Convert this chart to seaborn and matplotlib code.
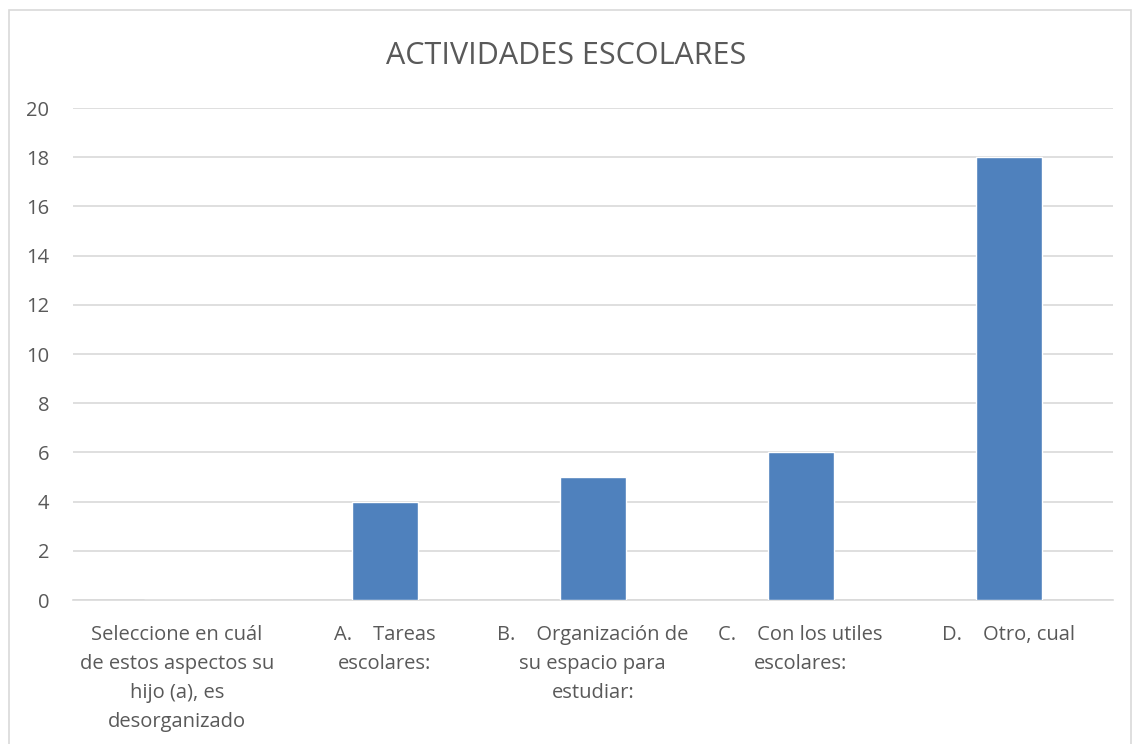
import matplotlib
matplotlib.use("Agg")
import matplotlib.pyplot as plt
import seaborn as sns
import pandas as pd
from matplotlib.patches import Rectangle

categorias = [
    "Seleccione en cuál\nde estos aspectos su\nhijo (a), es\ndesorganizado",
    "A.    Tareas\nescolares:",
    "B.    Organización de\nsu espacio para\nestudiar:",
    "C.    Con los utiles\nescolares:",
    "D.    Otro, cual",
]
valores = [0, 4, 5, 6, 18]
titulo = "ACTIVIDADES ESCOLARES"

sns.set_theme(style="white")
plt.rcParams["font.family"] = ["Open Sans", "DejaVu Sans"]

df = pd.DataFrame({"categoria": categorias, "valor": valores})

fig = plt.figure(figsize=(11.33, 7.44), dpi=100)
ax = fig.add_axes([0.0644, 0.1935, 0.9176, 0.6613])

sns.barplot(data=df, x="categoria", y="valor", color="#4F81BD",
            width=0.317, saturation=1, ax=ax, zorder=3)

ax.set_ylim(0, 20)
ax.set_yticks(range(0, 21, 2))
ax.yaxis.grid(True, color="#D9D9D9", linewidth=1.2, zorder=0)
ax.set_axisbelow(True)
for s in ["top", "right", "left"]:
    ax.spines[s].set_visible(False)
ax.spines["bottom"].set_color("#D9D9D9")
ax.spines["bottom"].set_linewidth(1.2)
ax.tick_params(axis="both", length=0, colors="#595959", labelsize=14.5)
ax.tick_params(axis="y", pad=17)
ax.tick_params(axis="x", pad=18)
for t in ax.get_xticklabels():
    t.set_linespacing(1.6)
ax.set_xlabel("")
ax.set_ylabel("")

fig.text(0.5, 0.925, titulo, ha="center", va="center", fontsize=22, color="#595959")

fig.patches.append(Rectangle((9 / 1133, -0.01), 1122 / 1133, 1 - 10 / 744 + 0.01,
                             transform=fig.transFigure, fill=False,
                             edgecolor="#D9D9D9", linewidth=1.2))

fig.savefig("out.png", dpi=100)
